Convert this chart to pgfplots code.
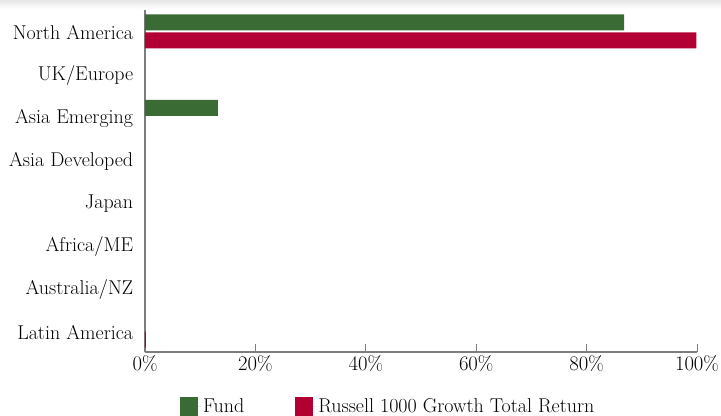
\documentclass[border=0pt]{standalone}
\usepackage{fontspec}
\usepackage{pgfplots}
\pgfplotsset{compat=1.18}
\definecolor{fundgreen}{RGB}{58,107,53}
\definecolor{russred}{RGB}{178,0,52}
\definecolor{axgray}{RGB}{125,125,125}
\begin{document}
\fontsize{20bp}{23bp}\selectfont
\begin{tikzpicture}
\shade[top color=black!10, bottom color=white] (-145bp,343bp) rectangle (576bp,352bp);
\begin{axis}[
  at={(0,0)}, anchor=south west,
  scale only axis, width=552bp, height=342bp,
  xbar, bar width=16bp,
  xmin=0, xmax=100, ymin=-0.5, ymax=7.5, y dir=reverse,
  ytick={0,...,7},
  yticklabels={North America,UK/Europe,Asia Emerging,Asia Developed,Japan,Africa/ME,Australia/NZ,Latin America},
  xtick={0,20,...,100},
  xticklabel={\pgfmathprintnumber{\tick}\%},
  axis x line*=bottom, axis y line*=left,
  axis line style={axgray, line width=1.2bp},
  x tick style={axgray, line width=1bp},
  tick align=inside, major tick length=8bp,
  y tick style={draw=none},
  tick label style={font=\fontsize{20bp}{23bp}\selectfont},
  y tick label style={xshift=-5bp, yshift=-1.5bp},
  x tick label style={yshift=3bp},
  legend style={at={(axis description cs:0.058,-0.123)}, anchor=north west, draw=none, fill=none,
    legend columns=2, font=\fontsize{20bp}{23bp}\selectfont,
    /tikz/every even column/.append style={column sep=49bp}},
  legend image code/.code={\fill[#1] (0bp,-10bp) rectangle (18bp,10bp); \path (18bp,0bp) -- (21bp,0bp);},
]
\addplot[fill=fundgreen, draw=none, bar shift=9bp] coordinates {
  (86.8,0) (13.2,2)};
\addlegendentry{Fund}
\addplot[fill=russred, draw=none, bar shift=-9bp] coordinates {
  (99.9,0) (0.15,7)};
\addlegendentry{Russell 1000 Growth Total Return}
\end{axis}
\pgfresetboundingbox
\path (-145bp,-64bp) rectangle (576bp,352bp);
\end{tikzpicture}
\end{document}
